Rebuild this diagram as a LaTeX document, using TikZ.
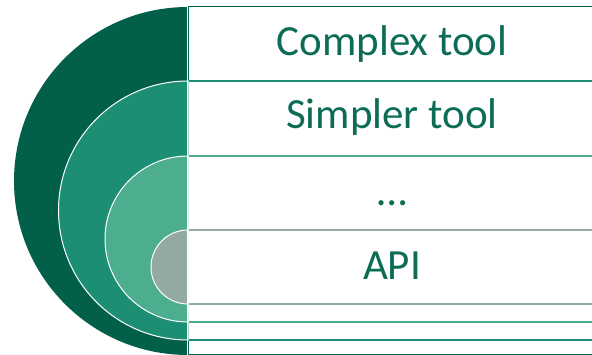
\documentclass[tikz,border=0pt]{standalone}
\usepackage{fontspec}
\setmainfont{Carlito}
\definecolor{ringA}{HTML}{02604A}
\definecolor{ringB}{HTML}{1B8E74}
\definecolor{ringC}{HTML}{4CAD8F}
\definecolor{ringD}{HTML}{94A9A0}
\definecolor{labeltxt}{HTML}{0D6C56}
\tikzset{
  band/.style={draw=#1, line width=1.1pt, fill=white},
  halfdisk/.style={fill=#1, draw=white, line width=1pt},
  label/.style={text=labeltxt, font=\fontsize{43}{48}\selectfont, anchor=base, inner sep=0pt},
}
\begin{document}
\begin{tikzpicture}[x=1pt,y=1pt]
\useasboundingbox (0,0) rectangle (592,355);
\begin{scope}
\clip (0,0) rectangle (592,355);
% layered bands, each spanning the diameter of its half-disk
\draw[band=ringA] (188.5,0.6) rectangle (600,348.5);
\draw[band=ringB] (188.5,15) rectangle (600,274);
\draw[band=ringC] (188.5,33) rectangle (600,199);
\draw[band=ringD] (188.5,51) rectangle (600,125);
% nested half-disks
\fill[ringA] (188,348) arc[start angle=90, end angle=270, radius=174] -- cycle;
\draw[halfdisk=ringB] (188,274) arc[start angle=90, end angle=270, radius=129.5] -- cycle;
\draw[halfdisk=ringC] (188,199) arc[start angle=90, end angle=270, radius=83] -- cycle;
\draw[halfdisk=ringD] (188,125) arc[start angle=90, end angle=270, radius=37] -- cycle;
\draw[white, line width=1pt] (187,0) -- (187,348);
\end{scope}
% band labels
\node[label] (complex) at (392,299) {Complex tool};
\node[label] (simpler) at (392,226) {Simpler tool};
\node[label] (dots) at (392,149) {…};
\node[label] (api) at (392,75) {API};
\end{tikzpicture}
\end{document}
